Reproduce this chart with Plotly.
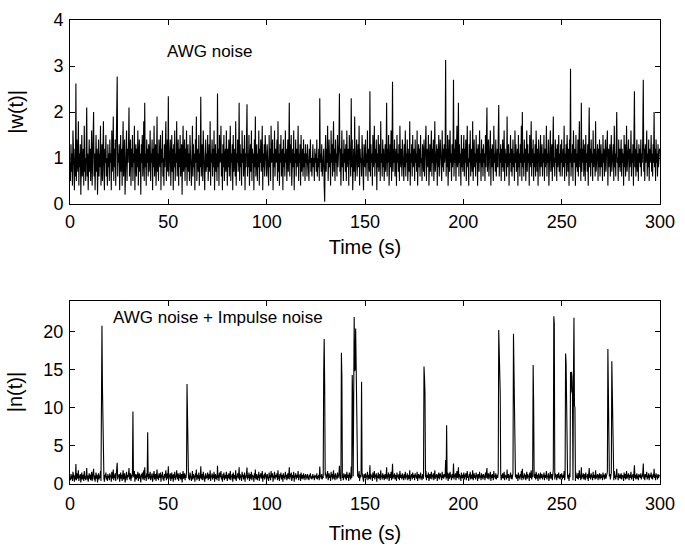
import plotly.graph_objects as go

# |w(t)| samples, 0.25 s apart (two lines = 10 s)
w_values = [
    0.9,0.5,1.3,0.7,1.1,0.4,1.6,0.8,1.0,0.3,1.2,0.6,2.62,0.5,1.4,0.9,0.7,1.8,0.4,1.1,
    0.8,1.3,0.2,1.0,1.5,0.6,0.9,1.2,0.4,1.7,0.7,1.0,0.5,1.3,2.1,0.6,1.1,0.3,0.9,1.4,
    0.7,1.2,0.5,1.0,1.6,0.4,0.8,1.3,2.0,0.6,1.1,0.3,0.9,1.5,0.7,1.2,0.2,1.0,1.4,0.6,
    1.1,0.8,1.7,0.4,0.9,1.3,0.5,1.0,1.8,0.7,0.3,1.2,0.9,1.5,0.6,1.0,0.4,1.3,0.8,1.1,
    0.5,1.4,0.9,1.1,0.3,1.6,0.7,1.0,1.9,0.5,1.2,0.8,1.4,0.4,1.0,1.7,2.77,0.6,1.1,0.9,
    1.3,0.3,1.0,1.5,0.7,1.2,0.4,0.9,1.8,0.6,1.1,1.4,0.2,1.0,0.8,1.6,0.5,1.2,0.9,1.3,
    2.1,0.6,1.0,1.4,0.4,1.2,0.8,1.5,0.5,1.1,0.9,1.7,0.3,1.0,1.3,0.6,1.2,0.8,1.6,0.4,
    1.0,1.4,0.7,1.1,0.2,1.3,0.9,1.5,0.6,1.0,1.8,0.5,2.2,0.8,1.1,0.4,1.4,0.9,1.2,0.6,
    1.3,0.7,1.0,1.6,0.5,1.1,0.9,1.4,0.3,1.2,0.8,1.7,0.6,1.0,1.3,0.4,0.9,1.9,0.7,1.1,
    0.5,1.4,1.0,0.8,1.5,0.3,1.2,0.9,1.6,0.6,1.0,0.4,1.3,0.8,1.1,1.8,0.5,1.0,1.4,0.7,
    2.34,0.6,1.1,0.9,1.4,0.4,1.0,1.5,0.7,1.2,0.3,1.3,0.8,1.6,0.5,1.1,0.9,1.8,0.6,1.0,
    1.4,0.4,1.2,0.8,1.5,0.6,1.0,1.3,0.2,1.1,1.7,0.7,0.9,1.4,0.5,1.2,0.8,1.6,0.4,1.0,
    1.3,0.7,1.1,0.5,1.5,0.9,1.2,0.4,1.0,1.7,0.6,1.3,0.8,1.1,0.3,1.4,0.9,1.9,0.5,1.0,
    1.2,0.7,1.5,0.4,1.1,0.8,2.33,0.6,1.0,1.3,0.5,1.6,0.9,1.2,0.3,1.0,1.4,0.7,1.1,0.8,
    1.5,0.5,1.0,1.3,0.7,1.8,0.4,1.1,0.9,1.4,0.6,1.2,0.8,1.6,0.3,1.0,1.3,0.7,1.1,0.5,
    2.4,0.8,1.2,0.4,1.5,0.9,1.0,1.7,0.6,1.1,0.3,1.3,0.8,1.5,0.5,1.0,1.2,0.7,1.6,0.9,
    0.4,1.2,0.8,1.4,0.6,1.0,1.7,0.5,1.1,0.9,1.3,0.3,1.5,0.7,1.0,1.2,0.6,1.8,0.4,1.1,
    0.9,1.4,0.7,1.0,2.2,0.5,1.3,0.8,1.1,0.4,1.6,0.9,1.2,0.6,1.0,1.5,0.3,1.1,0.8,1.4,
    2.17,0.6,1.1,0.8,1.5,0.4,1.0,1.3,0.7,1.6,0.5,1.2,0.9,1.1,0.3,1.4,0.8,1.9,0.6,1.0,
    1.3,0.5,1.1,0.8,1.6,0.4,1.2,0.9,1.4,0.7,1.0,1.7,0.3,1.1,0.8,1.3,0.6,1.5,0.9,1.0,
    0.6,1.3,0.9,1.1,0.4,1.5,0.8,1.2,0.5,1.7,0.9,1.0,1.4,0.3,1.1,0.8,1.6,0.6,1.2,0.9,
    1.0,1.4,0.5,1.8,0.7,1.1,0.4,1.3,0.9,1.5,0.6,1.0,1.2,0.3,1.4,0.8,1.1,0.6,1.6,0.9,
    1.2,0.5,1.0,1.4,0.7,1.1,2.2,0.6,1.3,0.9,1.5,0.4,1.0,1.2,0.8,1.6,0.3,1.1,0.9,1.4,
    0.6,1.2,0.8,1.0,1.7,0.5,1.1,0.9,1.3,0.4,1.5,0.7,1.0,1.2,0.6,1.4,0.8,1.1,0.5,1.3,
    0.9,1.1,0.6,1.3,0.8,1.0,0.5,1.2,0.9,1.4,0.7,1.0,0.6,1.1,1.3,0.8,1.0,0.5,1.2,0.9,
    1.1,0.7,1.4,0.6,1.0,0.8,1.2,0.5,2.3,0.9,1.1,0.7,1.3,0.6,1.0,0.8,1.2,0.4,0.05,1.1,
    1.5,0.7,1.2,0.9,1.7,0.5,1.0,1.4,0.8,1.1,0.4,1.6,0.9,1.3,0.6,1.0,1.8,0.7,1.2,0.5,
    1.4,0.9,1.1,0.6,1.5,0.8,1.0,1.3,2.4,0.7,1.2,0.4,1.0,1.6,0.8,1.1,0.5,1.4,0.9,1.2,
    0.7,1.3,0.5,1.6,1.0,0.8,1.2,0.4,1.5,0.9,1.1,0.6,2.3,0.8,1.4,0.3,1.0,1.2,0.7,1.9,
    0.5,1.1,0.9,1.4,0.6,1.0,1.3,0.8,1.7,0.4,1.2,0.9,1.0,0.6,1.5,0.8,1.1,0.3,1.3,1.0,
    0.8,1.4,0.6,1.1,0.9,1.6,0.5,1.2,1.0,0.7,2.45,0.6,1.3,0.9,1.1,0.4,1.5,0.8,1.0,1.7,
    0.6,1.2,0.9,1.4,0.3,1.1,0.8,1.5,0.7,1.0,1.3,0.5,1.8,0.9,1.1,0.6,1.4,0.8,1.2,0.5,
    1.0,1.3,0.7,1.1,2.2,0.6,1.2,0.9,1.5,0.4,1.0,1.3,0.8,1.6,0.5,1.1,2.66,0.7,1.2,0.9,
    1.4,0.6,1.0,1.2,0.4,1.5,0.9,1.1,0.7,1.3,0.5,1.7,1.0,0.8,1.2,0.6,1.4,0.9,1.0,0.5,
    1.3,0.8,1.6,0.6,1.1,0.9,1.4,0.5,1.0,1.2,0.7,1.8,0.4,1.1,0.9,1.3,0.6,1.5,0.8,1.0,
    1.2,0.5,1.4,0.9,1.1,0.7,1.6,0.4,1.0,1.3,0.8,1.2,0.6,1.5,0.9,1.0,0.5,1.3,1.1,0.7,
    1.4,0.6,1.1,0.9,1.7,0.5,1.2,1.0,0.8,1.5,0.4,1.1,1.3,0.7,1.0,1.6,0.6,1.2,0.9,1.4,
    0.5,1.0,1.8,0.7,1.1,0.9,1.3,0.4,1.2,0.8,1.5,0.6,1.0,1.4,0.9,1.1,0.5,1.6,0.8,1.2,
    0.7,1.3,0.9,1.1,3.13,0.6,1.2,0.8,1.5,0.4,1.0,1.4,0.7,1.6,0.9,1.1,0.5,1.3,0.8,1.0,
    2.7,0.6,1.2,0.9,1.4,0.5,1.1,1.7,0.8,1.0,2.2,0.6,1.3,0.9,1.1,0.4,1.5,0.8,1.2,0.7,
    1.0,1.5,0.6,1.2,0.9,1.4,0.5,1.1,1.7,0.8,1.0,0.4,1.3,0.9,1.6,0.6,1.1,1.2,0.7,1.8,
    0.5,1.0,1.4,0.8,1.1,0.6,1.5,0.9,1.2,0.4,1.3,1.0,0.7,1.6,0.9,1.1,0.5,1.4,0.8,1.2,
    0.6,1.3,0.9,1.1,0.5,1.5,0.8,1.2,2.1,0.7,1.0,1.4,0.6,1.1,0.9,1.6,0.4,1.2,0.8,1.3,
    1.0,0.5,1.7,0.9,1.1,0.7,1.4,0.6,1.0,1.2,0.8,1.5,2.15,0.6,1.1,0.9,1.3,0.5,1.2,0.8,
    1.4,0.7,1.0,1.6,0.5,1.2,0.9,1.1,0.6,1.9,0.8,1.0,1.3,0.4,1.1,0.9,1.5,0.7,1.2,0.6,
    1.0,1.4,0.8,1.1,0.5,1.6,0.9,1.3,0.7,1.0,1.2,0.4,1.5,0.8,1.1,0.6,1.3,0.9,1.7,0.5,
    2.0,0.8,1.1,0.6,1.4,0.9,1.2,0.5,1.0,1.6,0.7,1.3,0.9,1.1,0.4,1.5,0.8,1.0,1.8,0.6,
    1.2,0.9,1.4,0.5,1.1,0.8,1.3,0.6,1.6,1.0,0.7,1.2,0.4,1.4,0.9,1.1,0.6,1.5,0.8,1.0,
    1.3,0.6,1.1,0.9,1.5,0.5,1.2,0.8,1.0,1.7,0.6,1.1,0.9,1.4,0.4,1.2,0.8,1.6,0.7,1.0,
    1.3,0.5,1.1,1.9,0.8,1.0,0.6,1.4,0.9,1.2,0.5,1.3,0.8,1.0,1.5,0.7,1.1,0.6,1.3,0.9,
    1.4,0.6,1.0,1.2,0.8,1.7,0.5,1.1,0.9,1.3,0.6,1.5,1.0,0.7,1.2,0.4,1.4,0.9,2.94,0.6,
    1.1,0.8,1.3,0.5,1.6,0.9,1.0,1.2,0.4,1.5,0.8,1.1,0.7,1.4,0.6,1.0,1.8,0.8,1.2,0.5,
    2.2,0.7,1.2,0.9,1.4,0.6,1.0,1.3,0.5,1.5,0.9,1.1,0.7,1.3,0.4,1.0,2.1,0.8,1.2,0.6,
    1.4,0.9,1.1,0.5,1.6,0.8,1.0,1.2,0.6,1.8,0.7,1.1,0.9,1.3,0.5,1.2,0.8,1.4,0.6,1.0,
    1.3,0.8,1.1,0.5,1.5,0.9,1.2,0.6,1.0,1.4,0.7,1.1,0.9,1.6,0.4,1.2,0.8,1.0,1.3,0.6,
    1.1,1.5,0.7,1.0,0.9,1.3,0.5,1.7,0.8,1.1,0.6,1.2,2.0,0.9,1.0,0.5,1.4,0.8,1.2,0.7,
    1.0,1.4,0.6,1.2,0.9,1.1,0.4,1.5,0.8,1.3,0.6,1.0,1.7,0.7,1.1,0.9,1.4,0.5,1.2,0.8,
    1.0,1.6,0.6,1.1,0.9,1.3,0.4,1.5,2.45,0.8,1.2,0.6,1.0,1.4,0.7,1.1,0.5,1.3,0.9,1.2,
    0.8,1.4,0.6,1.1,0.9,1.5,2.7,0.7,1.2,0.5,1.3,0.9,1.0,1.6,0.6,1.1,0.8,1.4,0.5,1.2,
    0.9,1.0,1.5,0.7,1.1,0.6,1.3,0.9,2.0,0.8,1.2,0.5,1.4,0.9,1.1,0.6,1.3,0.8,1.0,1.2,
]
sample_step = 0.25
time_s = [i * sample_step for i in range(len(w_values))]

# impulse-noise samples of |n(t)| (time in s, magnitude)
impulse_times = [16.0, 16.25, 16.5, 16.75, 32.0, 39.5, 59.5, 59.75,
                 129.0, 129.25, 129.5, 138.0, 138.25,
                 143.5, 143.75, 144.25, 144.5, 144.75, 145.0, 145.25, 145.5, 145.75, 146.0, 148.25,
                 180.0, 180.25, 180.5, 191.5,
                 218.0, 218.25, 218.5, 218.75, 225.5, 225.75, 226.0, 235.5, 235.75,
                 246.0, 246.25, 252.0, 252.25, 252.5,
                 254.5, 254.75, 255.0, 255.25, 255.5, 256.0, 256.25, 256.5, 256.75,
                 273.5, 273.75, 274.0, 275.5, 275.75, 276.0]
impulse_values = [15.3, 20.75, 12.6, 8.0, 9.5, 6.8, 13.1, 8.5,
                  14.5, 19.0, 13.0, 17.2, 14.0,
                  14.3, 11.0, 15.2, 21.9, 14.8, 15.1, 20.4, 15.0, 13.2, 12.0, 13.4,
                  15.4, 14.0, 12.0, 7.7,
                  20.2, 16.0, 15.0, 12.0, 19.7, 15.6, 11.0, 15.6, 10.5,
                  22.0, 21.0, 17.1, 15.9, 11.0,
                  14.7, 12.0, 14.7, 14.0, 11.5, 14.0, 21.8, 10.3, 10.0,
                  17.7, 12.5, 10.0, 16.1, 11.7, 9.0]

n_values = list(w_values)
for t, v in zip(impulse_times, impulse_values):
    n_values[int(round(t / sample_step))] = v

x_ticks = [0, 50, 100, 150, 200, 250, 300]
w_ticks = [0, 1, 2, 3, 4]
n_ticks = [0, 5, 10, 15, 20]

FONT = "Liberation Sans"

fig = go.Figure()
fig.add_trace(go.Scatter(x=time_s, y=w_values, mode="lines",
                         line=dict(color="black", width=1.1), xaxis="x", yaxis="y",
                         showlegend=False, hoverinfo="skip"))
fig.add_trace(go.Scatter(x=time_s, y=n_values, mode="lines",
                         line=dict(color="black", width=1.1), xaxis="x2", yaxis="y2",
                         showlegend=False, hoverinfo="skip"))

axis_common = dict(showline=True, linecolor="black", linewidth=1, mirror="ticks",
                   ticks="inside", ticklen=5, tickwidth=1, tickcolor="black",
                   showgrid=False, zeroline=False, ticklabeloverflow="allow",
                   tickfont=dict(family=FONT, size=18, color="black"))

fig.update_layout(
    width=685, height=551,
    margin=dict(l=70, r=17, t=10, b=67),
    paper_bgcolor="white", plot_bgcolor="white",
    font=dict(family=FONT, color="black"),
    xaxis=dict(domain=[0, 1], range=[0, 300], tickvals=x_ticks, anchor="y",
               ticklabelstandoff=1,
               title=dict(text="Time (s)", font=dict(family=FONT, size=20), standoff=9),
               **axis_common),
    yaxis=dict(domain=[0.6034, 1], range=[0, 4], tickvals=w_ticks, anchor="x",
               ticklabelstandoff=2, **axis_common),
    xaxis2=dict(domain=[0, 1], range=[0, 300], tickvals=x_ticks, anchor="y2",
                ticklabelstandoff=3,
                title=dict(text="Time (s)", font=dict(family=FONT, size=20), standoff=13),
                **axis_common),
    yaxis2=dict(domain=[0, 0.3945], range=[0, 24], tickvals=n_ticks, anchor="x2",
                ticklabelstandoff=2, **axis_common),
    annotations=[
        dict(text="|w(t)|", xref="paper", yref="paper", x=(15 - 70) / 598,
             y=0.6034 + 0.3966 * 0.5, xanchor="center", yanchor="middle",
             textangle=-90, showarrow=False, font=dict(family=FONT, size=20)),
        dict(text="|n(t)|", xref="paper", yref="paper", x=(15 - 70) / 598,
             y=0.3945 * 0.5, xanchor="center", yanchor="middle",
             textangle=-90, showarrow=False, font=dict(family=FONT, size=20)),
        dict(text="AWG noise", xref="x", yref="y", x=48.2, y=3.32,
             xanchor="left", yanchor="middle", showarrow=False,
             font=dict(family=FONT, size=17)),
        dict(text="AWG noise + Impulse noise", xref="x2", yref="y2", x=20.6, y=21.8,
             xanchor="left", yanchor="middle", showarrow=False,
             font=dict(family=FONT, size=17)),
    ],
)

# remove the page's default body margin so the 685x551 figure fills the window exactly
fig.write_html("out.html", config={"displayModeBar": False},
               post_script="document.body.style.margin='0';")
